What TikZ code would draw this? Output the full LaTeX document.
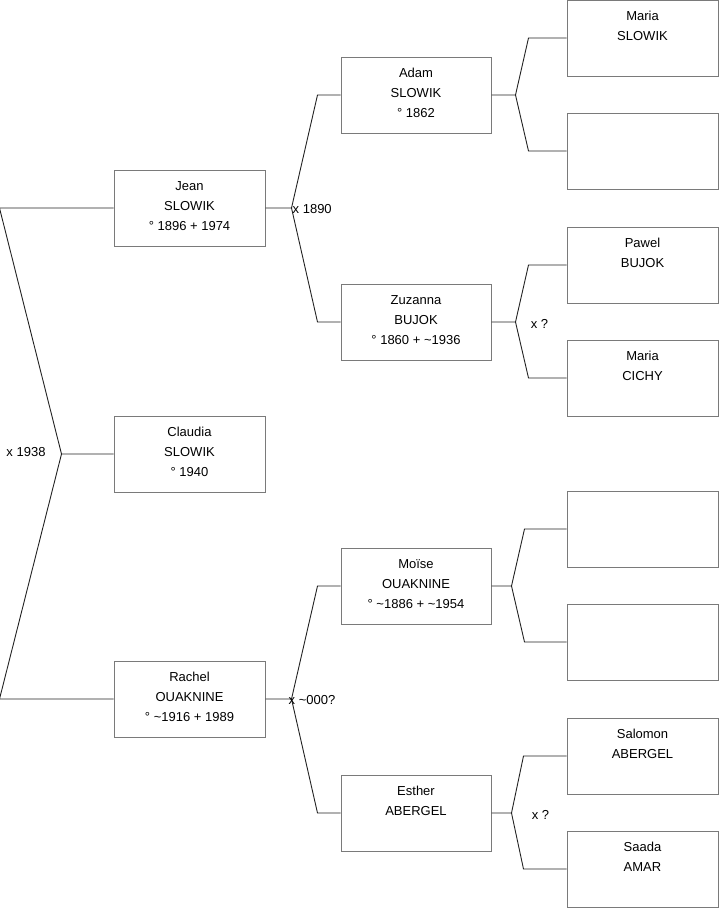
\documentclass[tikz,border=0pt]{standalone}
\usepackage{fontspec}
\setmainfont{Liberation Sans}
\definecolor{BoxGray}{HTML}{7a7a7a}
\definecolor{LinkBlack}{HTML}{222222}
% third line of a box: same height for every box, a little extra depth
\newcommand\dateline[1]{\vphantom{°1}#1\rule[-4pt]{0pt}{0pt}}

\begin{document}
\begin{tikzpicture}[x=1pt,y=-1pt,
  person/.style={draw=BoxGray,line width=1pt,minimum width=151pt,
    minimum height=76pt,inner sep=0pt,align=center,
    font=\fontsize{13}{20}\selectfont},
  link/.style={draw=LinkBlack,line width=0.9pt,line join=miter},
  union/.style={inner sep=0pt,font=\fontsize{13}{15}\selectfont}]
  \useasboundingbox (0,0) rectangle (719,908);

  % generation 1
  \node[person] (claudia) at (189.5,454)
    {Claudia\\SLOWIK\\\dateline{° 1940}};
  % generation 2
  \node[person] (jean) at (189.5,208)
    {Jean\\SLOWIK\\\dateline{° 1896 + 1974}};
  \node[person] (rachel) at (189.5,699)
    {Rachel\\OUAKNINE\\\dateline{° \textasciitilde1916 + 1989}};
  % generation 3
  \node[person,minimum width=150pt] (adam) at (416,95)
    {Adam\\SLOWIK\\\dateline{° 1862}};
  \node[person,minimum width=150pt] (zuzanna) at (416,322)
    {Zuzanna\\BUJOK\\\dateline{° 1860 + \textasciitilde1936}};
  \node[person,minimum width=150pt] (moise) at (416,586)
    {Moïse\\OUAKNINE\\\dateline{° \textasciitilde1886 + \textasciitilde1954}};
  \node[person,minimum width=150pt] (esther) at (416,813)
    {Esther\\ABERGEL\\\dateline{}};
  % generation 4
  \node[person] (mariaS) at (642.5,38) {Maria\\SLOWIK\\\dateline{}};
  \node[person] (adamM) at (642.5,151) {};
  \node[person] (pawel) at (642.5,265) {Pawel\\BUJOK\\\dateline{}};
  \node[person] (mariaC) at (642.5,378) {Maria\\CICHY\\\dateline{}};
  \node[person] (moiseF) at (642.5,529) {};
  \node[person] (moiseM) at (642.5,642) {};
  \node[person] (salomon) at (642.5,756) {Salomon\\ABERGEL\\\dateline{}};
  \node[person] (saada) at (642.5,869) {Saada\\AMAR\\\dateline{}};

  % couples
  \coordinate (cx) at ([xshift=-52pt]claudia.west);
  \draw[link] (claudia.west) -- (cx) -- ([xshift=-114pt]jean.west) -- (jean.west);
  \draw[link] (cx) -- ([xshift=-114pt]rachel.west) -- (rachel.west);
  \node[union] (cxl) at (26,452) {x 1938};

  \coordinate (jx) at ([xshift=26pt]jean.east);
  \draw[link] (jean.east) -- (jx) -- ([xshift=-23pt]adam.west) -- (adam.west);
  \draw[link] (jx) -- ([xshift=-23pt]zuzanna.west) -- (zuzanna.west);
  \node[union,anchor=west] (jxl) at ([xshift=1pt,yshift=-1pt]jx) {x 1890};

  \coordinate (rx) at ([xshift=26pt]rachel.east);
  \draw[link] (rachel.east) -- (rx) -- ([xshift=-23pt]moise.west) -- (moise.west);
  \draw[link] (rx) -- ([xshift=-23pt]esther.west) -- (esther.west);
  \node[union,anchor=west] (rxl) at ([xshift=-3pt,yshift=-1pt]rx) {x \textasciitilde000?};

  \coordinate (ax) at ([xshift=24pt]adam.east);
  \draw[link] (adam.east) -- (ax) -- ([xshift=-38pt]mariaS.west) -- (mariaS.west);
  \draw[link] (ax) -- ([xshift=-38pt]adamM.west) -- (adamM.west);

  \coordinate (zx) at ([xshift=24pt]zuzanna.east);
  \draw[link] (zuzanna.east) -- (zx) -- ([xshift=-38pt]pawel.west) -- (pawel.west);
  \draw[link] (zx) -- ([xshift=-38pt]mariaC.west) -- (mariaC.west);
  \node[union] (zxl) at ([xshift=24pt,yshift=-2pt]zx) {x ?};

  \coordinate (mx) at ([xshift=20pt]moise.east);
  \draw[link] (moise.east) -- (mx) -- ([xshift=-42pt]moiseF.west) -- (moiseF.west);
  \draw[link] (mx) -- ([xshift=-42pt]moiseM.west) -- (moiseM.west);

  \coordinate (ex) at ([xshift=20pt]esther.east);
  \draw[link] (esther.east) -- (ex) -- ([xshift=-43pt]salomon.west) -- (salomon.west);
  \draw[link] (ex) -- ([xshift=-43pt]saada.west) -- (saada.west);
  \node[union] (exl) at ([xshift=29pt,yshift=-2pt]ex) {x ?};
\end{tikzpicture}
\end{document}
